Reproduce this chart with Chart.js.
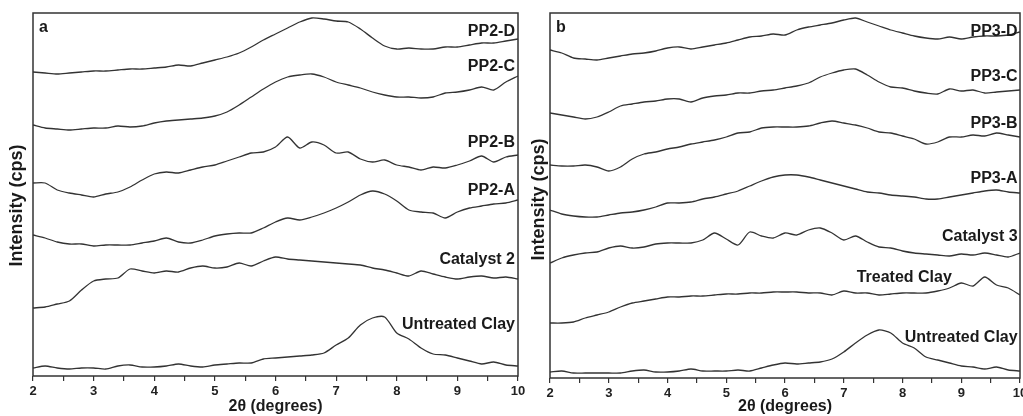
<!DOCTYPE html>
<html>
<head>
<meta charset="utf-8">
<script src="https://cdn.jsdelivr.net/npm/chart.js@4.4.1/dist/chart.umd.min.js"></script>
<style>
    html, body { margin: 0; padding: 0; background: #fff; }
    body { width: 1023px; height: 416px; position: relative; overflow: hidden; }
    canvas { position: absolute; top: 0; }
    #chartA { left: 0; }
    #chartB { left: 522px; }
</style>
</head>
<body>
<canvas id="chartA" width="535" height="416"></canvas>
<canvas id="chartB" width="501" height="416"></canvas>
<script>
// 2θ Raster (Grad)
const twoTheta = [2.0, 2.2, 2.4, 2.6, 2.8, 3.0, 3.2, 3.4, 3.6, 3.8, 4.0, 4.2, 4.4, 4.6, 4.8, 5.0, 5.2, 5.4, 5.6, 5.8,
    6.0, 6.2, 6.4, 6.6, 6.8, 7.0, 7.2, 7.4, 7.6, 7.8, 8.0, 8.2, 8.4, 8.6, 8.8, 9.0, 9.2, 9.4, 9.6, 9.8, 10.0];

// Panel a - Intensitaeten (gestapelt, beliebige Einheiten)
const pp2D = [304, 303, 302, 303, 304, 305, 305, 306, 307, 307, 308, 309, 311, 310, 313, 316, 319, 323, 329, 336,
    342, 348, 354, 358, 357, 355, 354, 347, 338, 330, 327, 328, 327, 327, 329, 329, 331, 333, 333, 335, 337];
const pp2C = [251, 248, 247, 246, 247, 248, 248, 250, 249, 250, 253, 255, 256, 257, 258, 260, 264, 271, 279, 287,
    294, 299, 301, 302, 299, 294, 291, 288, 284, 281, 279, 279, 278, 279, 283, 284, 286, 289, 286, 294, 300];
const pp2B = [193, 193, 186, 183, 181, 179, 182, 184, 189, 196, 202, 204, 203, 206, 209, 211, 215, 219, 223, 224,
    229, 239, 228, 234, 231, 223, 224, 217, 214, 216, 211, 209, 206, 209, 208, 211, 215, 220, 214, 219, 221];
const pp2A = [141, 138, 134, 132, 132, 130, 131, 131, 131, 133, 135, 138, 134, 133, 136, 140, 142, 143, 143, 148,
    154, 158, 156, 159, 163, 168, 174, 181, 185, 182, 175, 166, 164, 163, 158, 164, 168, 170, 172, 173, 176];
const catalyst2 = [68, 69, 72, 75, 86, 95, 97, 98, 107, 105, 103, 105, 104, 108, 110, 108, 109, 113, 110, 115,
    119, 117, 116, 115, 114, 113, 112, 111, 108, 106, 103, 100, 105, 102, 99, 97, 99, 100, 98, 99, 97];
const untreatedA = [8, 10, 8, 7, 8, 8, 7, 10, 11, 9, 9, 10, 12, 10, 9, 11, 12, 13, 13, 17,
    18, 19, 20, 21, 23, 31, 38, 51, 58, 59, 43, 37, 28, 22, 21, 18, 15, 12, 14, 11, 10];

// Panel b
const pp3D = [328, 325, 320, 319, 318, 320, 322, 324, 325, 327, 330, 331, 329, 331, 333, 335, 338, 341, 342, 344,
    343, 348, 351, 353, 355, 358, 360, 356, 352, 348, 345, 342, 340, 339, 341, 339, 341, 342, 342, 343, 346];
const pp3C = [265, 263, 261, 259, 261, 266, 272, 274, 276, 277, 279, 279, 276, 280, 282, 283, 285, 285, 287, 288,
    290, 292, 295, 301, 305, 308, 309, 303, 296, 291, 290, 287, 285, 284, 289, 287, 288, 285, 286, 287, 288];
const pp3B = [213, 212, 212, 213, 211, 207, 211, 219, 224, 226, 229, 231, 234, 236, 238, 241, 245, 246, 250, 251,
    251, 251, 252, 255, 257, 255, 253, 250, 246, 245, 242, 239, 234, 236, 241, 241, 243, 242, 245, 243, 241];
const pp3A = [168, 164, 162, 161, 161, 163, 165, 166, 168, 171, 175, 175, 176, 179, 181, 184, 187, 192, 197, 201,
    203, 203, 201, 198, 195, 192, 189, 186, 185, 183, 182, 181, 179, 179, 181, 183, 185, 187, 188, 186, 185];
const catalyst3 = [115, 120, 123, 125, 126, 130, 132, 130, 131, 134, 135, 135, 135, 138, 145, 139, 133, 146, 142, 140,
    145, 143, 148, 150, 145, 138, 142, 136, 131, 130, 127, 125, 124, 123, 122, 124, 123, 125, 123, 121, 125];
const treatedB = [55, 55, 56, 60, 63, 66, 71, 75, 77, 79, 81, 81, 82, 82, 83, 84, 84, 85, 85, 86,
    86, 86, 85, 85, 83, 87, 85, 85, 83, 84, 85, 85, 85, 87, 90, 95, 92, 101, 93, 90, 83];
const untreatedB = [6, 7, 5, 5, 5, 5, 5, 7, 8, 6, 6, 7, 9, 7, 7, 7, 8, 7, 10, 13,
    15, 14, 15, 16, 19, 26, 35, 43, 48, 45, 35, 30, 21, 18, 15, 12, 11, 9, 11, 8, 7];

// Kurvenbeschriftungen (Datenkoordinaten)
const labelsA = ['PP2-D', 'PP2-C', 'PP2-B', 'PP2-A', 'Catalyst 2', 'Untreated Clay'];
const labelXA = [9.95, 9.95, 9.95, 9.95, 9.95, 9.95];
const labelYA = [344, 309, 233, 185, 116, 51];

const labelsB = ['PP3-D', 'PP3-C', 'PP3-B', 'PP3-A', 'Catalyst 3', 'Treated Clay', 'Untreated Clay'];
const labelXB = [9.96, 9.96, 9.96, 9.96, 9.96, 8.84, 9.96];
const labelYB = [346, 301, 254, 199, 141, 100, 40];

const LINE = '#333';
const FONT = "'Liberation Sans', Arial, sans-serif";

// Rahmen, Panel-Buchstabe, y-Titel und Kurvennamen
const decorPlugin = {
    id: 'decor',
    afterDraw(chart, args, opts) {
        const { ctx, chartArea: a, scales } = chart;
        ctx.save();
        ctx.strokeStyle = LINE;
        ctx.lineWidth = 1.5;
        ctx.strokeRect(a.left, a.top, a.right - a.left, a.bottom - a.top);

        ctx.fillStyle = '#1a1a1a';
        ctx.font = `bold 16px ${FONT}`;
        ctx.textAlign = 'left';
        ctx.textBaseline = 'alphabetic';
        ctx.fillText(opts.letter, a.left + 6, a.top + 19);

        ctx.textAlign = 'right';
        ctx.textBaseline = 'middle';
        opts.names.forEach((name, i) => {
            const x = scales.x.getPixelForValue(opts.xs[i]);
            const y = scales.y.getPixelForValue(opts.ys[i]);
            ctx.fillText(name, x, y);
        });

        // y-Achsentitel, etwas unter der Mitte wie im Original
        ctx.save();
        ctx.translate(a.left - opts.titleGap, (a.top + a.bottom) / 2 + opts.titleShift);
        ctx.rotate(-Math.PI / 2);
        ctx.font = `bold 18px ${FONT}`;
        ctx.textAlign = 'center';
        ctx.textBaseline = 'middle';
        ctx.fillText('Intensity (cps)', 0, 0);
        ctx.restore();

        ctx.restore();
    }
};

function buildPanel(canvasId, cfg) {
    const datasets = cfg.series.map(values => ({
        data: twoTheta.map((x, i) => ({ x, y: values[i] })),
        borderColor: LINE,
        borderWidth: 1.3,
        pointRadius: 0,
        tension: 0.25,
        fill: false
    }));

    return new Chart(document.getElementById(canvasId), {
        type: 'line',
        data: { datasets },
        options: {
            responsive: false,
            animation: false,
            devicePixelRatio: 1,
            layout: { padding: { left: 0, top: 13, right: cfg.padRight, bottom: 0 } },
            plugins: {
                legend: { display: false },
                tooltip: { enabled: false },
                decor: {
                    letter: cfg.letter, names: cfg.names, xs: cfg.xs, ys: cfg.ys,
                    titleGap: cfg.titleGap, titleShift: cfg.titleShift
                }
            },
            scales: {
                x: {
                    type: 'linear',
                    min: 2,
                    max: 10,
                    afterFit: (s) => { s.height = cfg.xHeight; s.paddingLeft = 0; s.paddingRight = 0; },
                    ticks: {
                        stepSize: 0.5,
                        autoSkip: false,
                        maxRotation: 0,
                        padding: 3,
                        color: '#222',
                        font: { family: FONT, size: 13, weight: 'bold' },
                        callback: (v) => Number.isInteger(v) ? String(v) : ''
                    },
                    grid: {
                        drawOnChartArea: false,
                        drawTicks: true,
                        tickLength: 5,
                        color: LINE,
                        lineWidth: 1.2
                    },
                    border: { display: false },
                    title: {
                        display: true,
                        text: '2θ (degrees)',
                        color: '#1a1a1a',
                        font: { family: FONT, size: 16, weight: 'bold' },
                        padding: { top: 0, bottom: 0 }
                    }
                },
                y: {
                    min: 0,
                    max: cfg.yMax,
                    afterFit: (s) => { s.width = cfg.yWidth; },
                    ticks: { display: false },
                    grid: { display: false },
                    border: { display: false }
                }
            }
        },
        plugins: [decorPlugin]
    });
}

buildPanel('chartA', {
    letter: 'a',
    series: [pp2D, pp2C, pp2B, pp2A, catalyst2, untreatedA],
    names: labelsA, xs: labelXA, ys: labelYA,
    yMax: 363, yWidth: 33, xHeight: 40, padRight: 17,
    titleGap: 16, titleShift: 11
});

buildPanel('chartB', {
    letter: 'b',
    series: [pp3D, pp3C, pp3B, pp3A, catalyst3, treatedB, untreatedB],
    names: labelsB, xs: labelXB, ys: labelYB,
    yMax: 365, yWidth: 28, xHeight: 38, padRight: 3,
    titleGap: 11, titleShift: 4
});
</script>
</body>
</html>
